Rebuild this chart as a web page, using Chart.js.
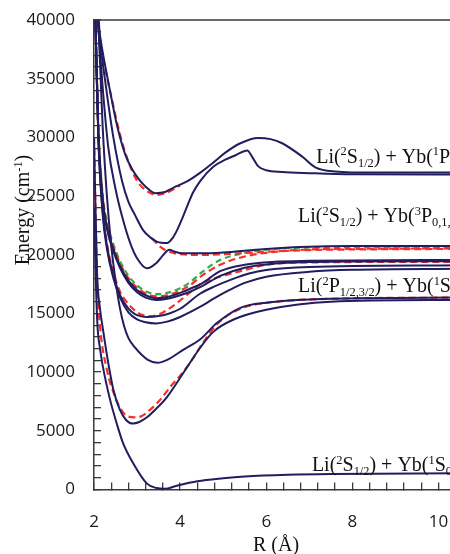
<!DOCTYPE html>
<html>
<head>
<meta charset="utf-8">
<script src="https://cdn.jsdelivr.net/npm/chart.js@4.4.1/dist/chart.umd.min.js"></script>
<style>
  html, body { margin: 0; padding: 0; background: #fff; overflow: hidden; }
  #wrap { width: 450px; height: 554px; overflow: hidden; }
</style>
</head>
<body>
<div id="wrap"><canvas id="pec" width="460" height="554"></canvas></div>
<script>
// potential curves, R in angstrom, E in cm-1
const groundR = [2.0, 2.04, 2.08, 2.14, 2.2, 2.37, 2.53, 2.67, 2.9, 3.23, 3.45, 3.65, 3.9, 4.4, 5.0, 5.5, 6.5, 7.5, 10.5];
const groundE = [24000, 18100, 14000, 12000, 10600, 7700, 5600, 4000, 2300, 500, 130, 60, 300, 700, 950, 1100, 1250, 1320, 1380];

const lowR = [2.0, 2.07, 2.14, 2.21, 2.33, 2.45, 2.6, 2.75, 2.9, 3.05, 3.23, 3.45, 3.7, 4.07, 4.47, 4.77, 5.23, 6.0, 7.5, 10.5];
const lowE = [30000, 18500, 15400, 13600, 10800, 8500, 6800, 5900, 5620, 5750, 6150, 6900, 7900, 9900, 12100, 13430, 14460, 15310, 16000, 16150];
const lowRedR = [2.0, 2.07, 2.14, 2.3, 2.49, 2.63, 2.77, 2.95, 3.1, 3.3, 3.55, 3.77, 4.0, 4.23, 4.53, 4.86, 5.4, 6.0, 7.5, 10.5];
const lowRedE = [30000, 18100, 13900, 10200, 7900, 6800, 6250, 6150, 6250, 6780, 7700, 8740, 9700, 10790, 12500, 14100, 15400, 15900, 16250, 16350];

const wellR = [2.05, 2.1, 2.2, 2.3, 2.4, 2.5, 2.6, 2.7, 2.8, 2.95, 3.1, 3.25, 3.47, 3.7, 4.07, 4.47, 4.86, 5.4, 6.0, 7.5, 10.5];
const wellE = [45000, 40000, 31000, 25000, 20800, 17800, 15500, 13900, 12900, 12100, 11500, 11050, 10800, 11050, 11900, 12800, 14200, 15480, 15910, 16250, 16350];

// 2P / 3P cluster
const clusterR = [2.03, 2.1, 2.2, 2.3, 2.44, 2.6, 2.8, 3.0, 3.2, 3.45, 3.7, 4.0, 4.23, 4.5, 4.93, 5.5, 6.2, 7.0, 8.0, 10.5];
const greenE = [40500, 31000, 25200, 22800, 21000, 19500, 18200, 17400, 16900, 16650, 16750, 17150, 17650, 18500, 19550, 20150, 20500, 20620, 20660, 20680];
const redUpE = [40500, 30800, 25000, 22600, 20800, 19300, 18000, 17200, 16700, 16450, 16550, 16950, 17400, 18200, 19150, 19850, 20250, 20400, 20450, 20500];
const c1E = [40500, 30600, 24800, 22400, 20600, 19100, 17800, 17000, 16550, 16300, 16400, 16750, 17100, 17550, 18600, 19150, 19400, 19480, 19520, 19550];
const c2E = [40500, 30400, 24600, 22200, 20400, 18900, 17600, 16800, 16350, 16150, 16250, 16550, 16850, 17300, 18200, 18900, 19250, 19380, 19430, 19450];

const redLowR = [2.03, 2.1, 2.2, 2.3, 2.45, 2.6, 2.8, 3.0, 3.15, 3.3, 3.5, 3.7, 3.93, 4.2, 4.47, 4.9, 5.4, 6.0, 7.0, 10.5];
const redLowE = [40500, 30500, 24000, 21000, 18500, 16900, 15800, 15100, 14850, 14780, 14900, 15300, 15900, 16700, 17500, 18100, 18600, 19150, 19350, 19400];
const c3R = [2.03, 2.1, 2.2, 2.3, 2.45, 2.6, 2.8, 2.95, 3.1, 3.25, 3.5, 3.75, 4.0, 4.47, 4.8, 5.2, 5.6, 6.0, 7.0, 10.5];
const c3E = [40500, 30200, 23800, 20800, 18200, 16600, 15400, 14950, 14750, 14700, 14780, 15000, 15400, 16700, 17300, 17900, 18400, 18700, 18950, 19100];
const c4R = [2.03, 2.1, 2.2, 2.3, 2.45, 2.6, 2.8, 3.0, 3.2, 3.45, 3.7, 4.0, 4.47, 4.8, 5.16, 5.5, 6.0, 7.0, 8.0, 10.5];
const c4E = [40500, 30000, 23500, 20500, 18000, 16400, 15100, 14500, 14250, 14150, 14300, 14700, 15570, 16300, 17020, 17600, 18130, 18550, 18720, 18800];

// 3P-like state with the bump
const bumpR = [2.08, 2.19, 2.33, 2.5, 2.65, 2.85, 3.0, 3.23, 3.45, 3.6, 3.75, 3.88, 4.05, 4.5, 4.93, 5.5, 6.0, 7.0, 8.0, 10.5];
const bumpE = [40500, 34800, 29200, 25600, 23300, 20900, 19700, 18850, 19300, 19950, 20430, 20250, 20120, 20120, 20170, 20350, 20500, 20690, 20740, 20750];
const bumpRedR = [3.35, 3.55, 3.75, 4.0, 4.5, 5.0, 6.0, 7.0, 8.0, 10.5];
const bumpRedE = [21400, 20650, 20250, 20050, 19980, 20050, 20250, 20450, 20500, 20550];

// 1P states
const steepR = [2.1, 2.15, 2.26, 2.45, 2.65, 2.8, 2.95, 3.14, 3.3, 3.47, 3.7, 3.82, 3.93, 4.05, 4.16, 4.3, 4.47, 4.77, 5.05, 5.3, 5.56, 5.68, 5.81, 6.0, 6.37, 7.0, 8.0, 10.5];
const steepE = [40500, 38000, 34800, 30000, 26300, 24500, 23400, 22100, 21500, 21100, 21000, 21400, 22100, 23100, 24100, 25300, 26300, 27500, 28100, 28500, 28880, 28300, 27550, 27200, 27050, 26950, 26850, 26830];
const topR = [2.06, 2.2, 2.37, 2.53, 2.72, 2.9, 3.05, 3.2, 3.42, 3.65, 3.84, 4.16, 4.47, 4.77, 5.05, 5.4, 5.81, 6.1, 6.37, 6.84, 7.14, 7.6, 8.5, 10.5];
const topE = [40500, 37300, 34000, 31100, 28600, 27200, 26400, 25800, 25250, 25350, 25700, 26250, 27000, 27850, 28700, 29500, 29950, 29850, 29500, 28350, 27450, 27100, 27000, 27000];
const topRedR = [2.05, 2.2, 2.4, 2.6, 2.8, 3.0, 3.2, 3.45, 3.7, 4.0];
const topRedE = [40500, 37000, 33500, 30300, 27900, 26300, 25500, 25100, 25300, 25900];

// asymptote labels
const labelParts = [
  [['Li(', 'n'], ['2', 'sup'], ['S', 'n'], ['1/2', 'sub'], [') + Yb(', 'n'], ['1', 'sup'], ['P', 'n'], ['1', 'sub'], [')', 'n']],
  [['Li(', 'n'], ['2', 'sup'], ['S', 'n'], ['1/2', 'sub'], [') + Yb(', 'n'], ['3', 'sup'], ['P', 'n'], ['0,1,2', 'sub'], [')', 'n']],
  [['Li(', 'n'], ['2', 'sup'], ['P', 'n'], ['1/2,3/2', 'sub'], [') + Yb(', 'n'], ['1', 'sup'], ['S', 'n'], ['0', 'sub'], [')', 'n']],
  [['Li(', 'n'], ['2', 'sup'], ['S', 'n'], ['1/2', 'sub'], [') + Yb(', 'n'], ['1', 'sup'], ['S', 'n'], ['0', 'sub'], [')', 'n']]
];
const labelR = [7.16, 6.74, 6.74, 7.06];
const labelE = [27850, 22775, 16850, 1580];

const NAVY = '#211d5e';
const RED = '#f2302c';
const GREEN = '#2fae4a';
const AXIS = '#3a3a3a';
const SERIF = "'Liberation Serif', 'Times New Roman', serif";

function curve(rs, es, color, dash) {
  return {
    data: rs.map((r, i) => ({ x: r, y: es[i] })),
    showLine: true,
    borderColor: color,
    borderWidth: dash ? 2.2 : 2,
    borderDash: dash || [],
    pointRadius: 0,
    cubicInterpolationMode: 'monotone',
    fill: false
  };
}

const datasets = [
  curve(groundR, groundE, NAVY),
  curve(lowR, lowE, NAVY),
  curve(wellR, wellE, NAVY),
  curve(clusterR, c1E, NAVY),
  curve(clusterR, c2E, NAVY),
  curve(c3R, c3E, NAVY),
  curve(c4R, c4E, NAVY),
  curve(bumpR, bumpE, NAVY),
  curve(steepR, steepE, NAVY),
  curve(topR, topE, NAVY),
  curve(lowRedR, lowRedE, RED, [7, 4]),
  curve(redLowR, redLowE, RED, [7, 4]),
  curve(clusterR, redUpE, RED, [7, 4]),
  curve(bumpRedR, bumpRedE, RED, [7, 4]),
  curve(topRedR, topRedE, RED, [7, 4]),
  curve(clusterR, greenE, GREEN, [6, 4])
];

function richWidth(ctx, parts, size) {
  let w = 0;
  parts.forEach(([t, k]) => {
    ctx.font = (k === 'n' ? size : size * 0.62) + 'px ' + SERIF;
    w += ctx.measureText(t).width;
  });
  return w;
}

function drawRich(ctx, parts, x, y, size) {
  let cx = x;
  parts.forEach(([t, k]) => {
    const s = k === 'n' ? size : size * 0.62;
    const dy = k === 'sup' ? -size * 0.36 : (k === 'sub' ? size * 0.2 : 0);
    ctx.font = s + 'px ' + SERIF;
    ctx.fillText(t, cx, y + dy);
    cx += ctx.measureText(t).width;
  });
}

// top frame line, axis titles and asymptote labels
const framePlugin = {
  id: 'frame',
  afterDraw(chart) {
    const { ctx, chartArea: a, scales: { x, y } } = chart;
    ctx.save();
    ctx.setLineDash([]);
    ctx.strokeStyle = AXIS;
    ctx.lineWidth = 1.5;
    ctx.beginPath();
    ctx.moveTo(a.left, a.top);
    ctx.lineTo(a.right, a.top);
    ctx.stroke();

    ctx.fillStyle = '#111';
    ctx.textBaseline = 'alphabetic';
    ctx.textAlign = 'left';
    labelParts.forEach((parts, i) => {
      drawRich(ctx, parts, x.getPixelForValue(labelR[i]), y.getPixelForValue(labelE[i]), 20);
    });

    const xt = [['R (Å)', 'n']];
    drawRich(ctx, xt, 276 - richWidth(ctx, xt, 20) / 2, 551, 20);

    const yt = [['Energy (cm', 'n'], ['-1', 'sup'], [')', 'n']];
    ctx.translate(29, 210);
    ctx.rotate(-Math.PI / 2);
    drawRich(ctx, yt, -richWidth(ctx, yt, 20) / 2, 0, 20);
    ctx.restore();
  }
};

const tickFont = { family: "'Open Sans', sans-serif", size: 17 };
// inward tick marks: every 1000 cm-1 and every 0.4 A, labels only on the major values
const innerGrid = { drawOnChartArea: false, drawTicks: true, tickLength: -7, color: AXIS, lineWidth: 1.3 };

new Chart(document.getElementById('pec').getContext('2d'), {
  type: 'scatter',
  data: { datasets },
  options: {
    responsive: false,
    animation: false,
    layout: { padding: { top: 20, left: 0, right: 0, bottom: 0 } },
    plugins: { legend: { display: false }, tooltip: { enabled: false } },
    scales: {
      x: {
        type: 'linear', min: 2, max: 10.5,
        ticks: {
          stepSize: 0.4, includeBounds: false, autoSkip: false, maxRotation: 0,
          padding: 29, font: tickFont, color: '#1a1a1a',
          callback: v => (Math.abs(v - Math.round(v)) < 1e-6 && Math.round(v) % 2 === 0) ? String(Math.round(v)) : ''
        },
        grid: innerGrid,
        border: { color: AXIS, width: 1.5 },
        afterFit: s => { s.height = 64.5; s.paddingLeft = 0; s.paddingRight = 0; }
      },
      y: {
        min: 0, max: 40000,
        ticks: {
          stepSize: 1000, autoSkip: false, padding: 26, font: tickFont, color: '#1a1a1a',
          callback: v => (v % 5000 === 0) ? String(v) : ''
        },
        grid: innerGrid,
        border: { color: AXIS, width: 1.5 },
        afterFit: s => { s.width = 94; s.paddingTop = 0; s.paddingBottom = 0; }
      }
    }
  },
  plugins: [framePlugin]
});
</script>
</body>
</html>
